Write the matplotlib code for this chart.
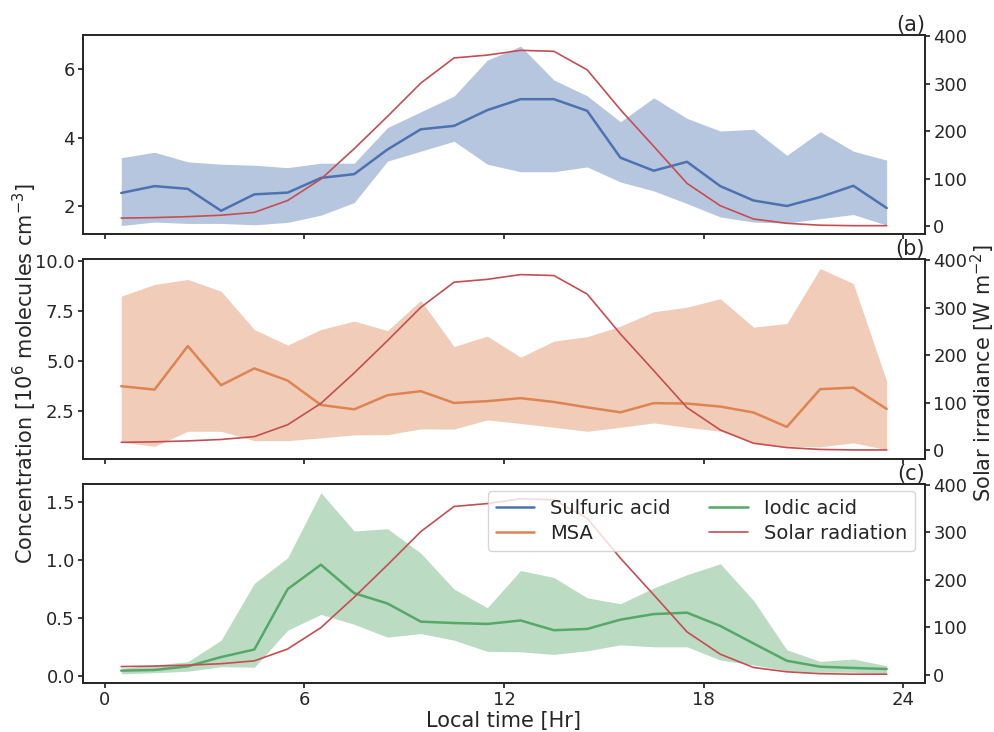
import numpy as np
import matplotlib
matplotlib.use("Agg")
import matplotlib.pyplot as plt
import seaborn as sns

sns.set_theme(style="ticks", font_scale=1.25)
plt.rcParams['font.family'] = ['DejaVu Sans']
plt.rcParams['xtick.labelsize'] = 13
plt.rcParams['ytick.labelsize'] = 13
plt.rcParams['xtick.major.size'] = 3.5
plt.rcParams['ytick.major.size'] = 3.5
plt.rcParams['xtick.major.pad'] = 2.5
plt.rcParams['ytick.major.pad'] = 2.5

#Data (hourly, local time)
hours = [h + 0.5 for h in range(24)]

solar = [17, 18, 20, 23, 29, 54, 99, 163, 231, 301, 354, 360,
         370, 368, 329, 245, 168, 90, 43, 15, 6, 2, 1, 1]

sa_mean = [2.39, 2.59, 2.51, 1.87, 2.35, 2.40, 2.83, 2.94, 3.66, 4.25, 4.35, 4.81,
           5.13, 5.13, 4.79, 3.42, 3.04, 3.30, 2.59, 2.17, 2.01, 2.27, 2.60, 1.95]
sa_hi = [3.42, 3.58, 3.30, 3.23, 3.20, 3.13, 3.26, 3.26, 4.30, 4.76, 5.22, 6.27,
         6.68, 5.69, 5.23, 4.47, 5.17, 4.57, 4.20, 4.25, 3.49, 4.18, 3.61, 3.35]
sa_lo = [1.44, 1.54, 1.50, 1.50, 1.46, 1.53, 1.74, 2.11, 3.32, 3.61, 3.90, 3.23,
         3.01, 3.01, 3.15, 2.71, 2.45, 2.08, 1.69, 1.54, 1.51, 1.64, 1.76, 1.45]

msa_mean = [3.73, 3.56, 5.74, 3.78, 4.62, 4.01, 2.79, 2.57, 3.28, 3.48, 2.89, 2.98,
            3.13, 2.94, 2.67, 2.42, 2.88, 2.86, 2.71, 2.41, 1.69, 3.58, 3.66, 2.59]
msa_hi = [8.24, 8.83, 9.08, 8.49, 6.57, 5.79, 6.57, 6.99, 6.52, 8.03, 5.72, 6.24,
          5.18, 5.99, 6.21, 6.74, 7.46, 7.69, 8.11, 6.69, 6.87, 9.63, 8.87, 3.98]
msa_lo = [0.92, 0.72, 1.47, 1.47, 1.00, 1.00, 1.14, 1.29, 1.30, 1.59, 1.58, 2.04,
          1.86, 1.67, 1.47, 1.67, 1.89, 1.67, 1.47, 0.89, 0.72, 0.69, 0.89, 0.55]

ia_mean = [0.048, 0.054, 0.085, 0.165, 0.23, 0.75, 0.96, 0.715, 0.626, 0.47, 0.458, 0.45,
           0.48, 0.396, 0.407, 0.487, 0.535, 0.547, 0.433, 0.282, 0.133, 0.082, 0.071, 0.062]
ia_hi = [0.068, 0.097, 0.125, 0.31, 0.80, 1.02, 1.58, 1.25, 1.27, 1.06, 0.75, 0.59,
         0.91, 0.85, 0.675, 0.624, 0.76, 0.874, 0.968, 0.652, 0.227, 0.128, 0.148, 0.09]
ia_lo = [0.02, 0.03, 0.043, 0.082, 0.077, 0.396, 0.532, 0.447, 0.336, 0.367, 0.31, 0.214,
         0.21, 0.188, 0.219, 0.27, 0.253, 0.253, 0.139, 0.097, 0.048, 0.034, 0.034, 0.02]

names = ["Sulfuric acid", "MSA", "Iodic acid"]
panels = ["(a)", "(b)", "(c)"]
means = [sa_mean, msa_mean, ia_mean]
highs = [sa_hi, msa_hi, ia_hi]
lows = [sa_lo, msa_lo, ia_lo]
left_ticks = [[2, 4, 6], [2.5, 5.0, 7.5, 10.0], [0.0, 0.5, 1.0, 1.5]]

pal = sns.color_palette("deep")
colors = [pal[0], pal[1], pal[2]]
red = pal[3]

fig, axes = plt.subplots(3, 1, sharex=True, figsize=(9.95, 7.32), dpi=100)
plt.subplots_adjust(left=0.0834, right=0.9296, top=0.952, bottom=0.067, hspace=0.125)

handles = []
for i, ax in enumerate(axes):
    ax.fill_between(hours, lows[i], highs[i], color=colors[i], alpha=0.4, lw=0)
    ln, = ax.plot(hours, means[i], color=colors[i], lw=1.8, label=names[i])
    handles.append(ln)
    ax.set_xticks([0, 6, 12, 18, 24])
    ax.set_yticks(left_ticks[i])
    ax.set_title(panels[i], loc='right', pad=2, fontsize=15)

    # solar radiation on twin axis
    ax2 = ax.twinx()
    sl, = ax2.plot(hours, solar, color=red, lw=1.2, label="Solar radiation")
    ax2.set_ylim(-17.5, 402)
    ax2.set_yticks([0, 100, 200, 300, 400])

handles.append(sl)
axes[0].set_ylim(None, 7.0)
axes[1].set_yticklabels(["2.5", "5.0", "7.5", "10.0"])

axes[2].set_xlabel("Local time [Hr]", labelpad=1)
fig.text(0.025, 0.49, r"Concentration [10$^6$ molecules cm$^{-3}$]", rotation=90,
         ha='center', va='center', fontsize=15)
fig.text(0.988, 0.49, r"Solar irradiance [W m$^{-2}$]", rotation=90,
         ha='center', va='center', fontsize=15)

ax2.legend(handles, [h.get_label() for h in handles], ncol=2, loc='upper right',
           fontsize=14, bbox_to_anchor=(0.995, 0.99), borderaxespad=0.3,
           handlelength=2.0, columnspacing=2.0, labelspacing=0.3)

plt.savefig('out.png')
